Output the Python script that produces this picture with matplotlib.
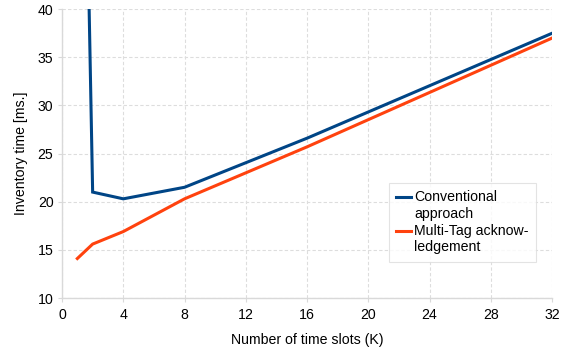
import matplotlib
matplotlib.use("Agg")
import matplotlib.pyplot as plt
from matplotlib.transforms import ScaledTranslation

plt.rcParams['font.family'] = ['Liberation Sans', 'DejaVu Sans']

k_conv = [1, 2, 4, 8, 16, 32]
t_conv = [104.0, 21.0, 20.3, 21.5, 26.6, 37.5]
k_mt = [1, 2, 4, 8, 16, 32]
t_mt = [14.1, 15.6, 16.9, 20.3, 25.7, 37.0]
x_ticks = [0, 4, 8, 12, 16, 20, 24, 28, 32]
y_ticks = [10, 15, 20, 25, 30, 35, 40]

fs = 10.2
fig = plt.figure(figsize=(5.71, 3.52), dpi=100)
ax = fig.add_axes([0.1086, 0.1534, 0.8584, 0.8206])

ax.plot(k_conv, t_conv, color='#004586', lw=2.2, label='Conventional\napproach', solid_joinstyle='miter')
ax.plot(k_mt, t_mt, color='#ff420e', lw=2.2, label='Multi-Tag acknow-\nledgement', solid_joinstyle='miter')

ax.set_xlim(0, 32)
ax.set_ylim(10, 40)
ax.set_xticks(x_ticks)
ax.set_yticks(y_ticks)
ax.grid(True, color='#dddddd', linestyle=(0, (3, 2)), linewidth=0.8)
ax.set_axisbelow(True)
for s in ['top', 'right']:
    ax.spines[s].set_visible(False)
for s in ['left', 'bottom']:
    ax.spines[s].set_color('#d9d9d9')
    ax.spines[s].set_linewidth(1.0)
ax.tick_params(length=3.2, width=0.8, color='#d9d9d9', direction='out',
               labelsize=fs, labelcolor='#000000')
ax.tick_params(axis='y', pad=3)
ax.tick_params(axis='x', pad=4.2)
ax.set_xlabel('Number of time slots (K)', fontsize=fs, labelpad=8)
ax.set_ylabel('Inventory time [ms.]', fontsize=fs, labelpad=7)

leg = ax.legend(loc='upper left', bbox_to_anchor=(0.667, 0.398), fontsize=fs,
                frameon=True, fancybox=False, handlelength=1.05, handletextpad=0.2,
                borderpad=0.52, labelspacing=0.25, borderaxespad=0)
leg.get_frame().set_edgecolor('#dddddd')
leg.get_frame().set_linewidth(0.8)
for h in leg.legend_handles:
    h.set_transform(h.get_transform() + ScaledTranslation(0, 6.3 / 72, fig.dpi_scale_trans))

fig.savefig('out.png', dpi=100)
